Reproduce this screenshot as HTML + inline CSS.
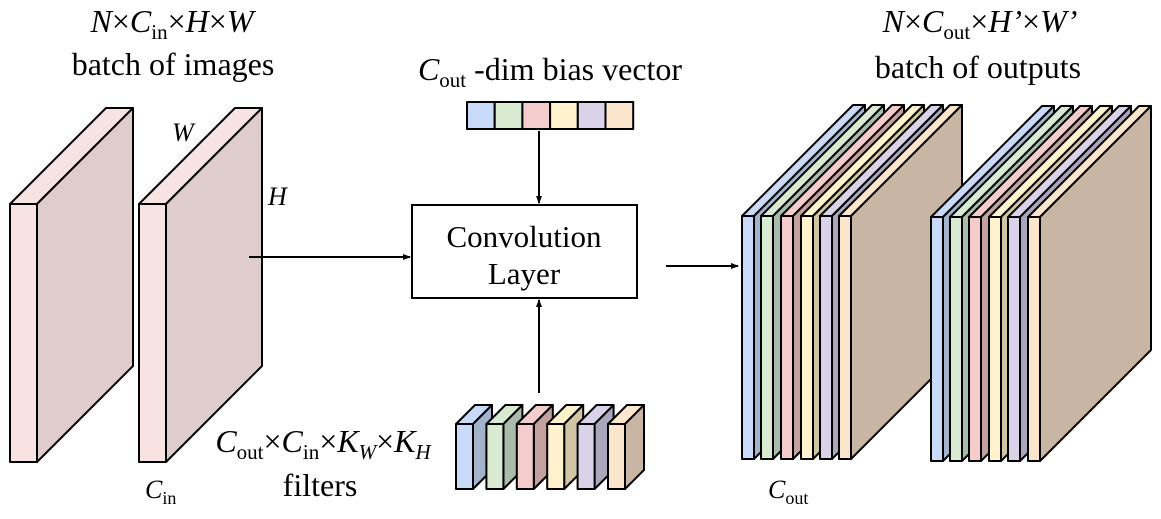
<!DOCTYPE html>
<html><head><meta charset="utf-8"><style>
html,body{margin:0;padding:0;background:#fff;}
svg{display:block;}
svg text{font-family:"Liberation Serif","Times New Roman",serif !important;fill:#000;}
</style></head><body>
<svg id="s" width="1161" height="519" viewBox="0 0 1161 519" xmlns="http://www.w3.org/2000/svg" font-family="Liberation Serif, serif">
<defs><marker id="ah" markerWidth="8" markerHeight="8" refX="7" refY="4" orient="auto" markerUnits="userSpaceOnUse"><path d="M0,1 L8,4 L0,7 Z" fill="#000"/></marker></defs>
<g id="g" stroke="#000" stroke-width="2" stroke-linejoin="round"></g>
<rect x="412" y="205" width="225" height="93" fill="#fff" stroke="#000" stroke-width="2"/>
<text x="524" y="247" font-size="31" text-anchor="middle">Convolution</text>
<text x="524" y="284" font-size="31" text-anchor="middle">Layer</text>
<g stroke="#000" stroke-width="2" fill="none">
<line x1="249" y1="257" x2="410" y2="257" marker-end="url(#ah)"/>
<line x1="539" y1="131" x2="539" y2="203" marker-end="url(#ah)"/>
<line x1="539" y1="393" x2="539" y2="300" marker-end="url(#ah)"/>
<line x1="666" y1="266" x2="738" y2="266" marker-end="url(#ah)"/>
</g>
<text x="172" y="32" font-size="32" text-anchor="middle"><tspan font-style="italic">N</tspan>×<tspan font-style="italic">C</tspan><tspan font-size="21" dy="7">in</tspan><tspan dy="-7">×</tspan><tspan font-style="italic">H</tspan>×<tspan font-style="italic">W</tspan></text>
<text x="173" y="75" font-size="32" text-anchor="middle">batch of images</text>
<text x="172" y="141" font-size="26" font-style="italic">W</text>
<text x="268" y="205" font-size="26" font-style="italic">H</text>
<text x="145" y="498" font-size="26"><tspan font-style="italic">C</tspan><tspan font-size="18" dy="6">in</tspan></text>
<text x="550" y="80" font-size="32" text-anchor="middle"><tspan font-style="italic">C</tspan><tspan font-size="21" dy="7">out</tspan><tspan dy="-7"> -dim bias vector</tspan></text>
<text x="323" y="452" font-size="32" text-anchor="middle"><tspan font-style="italic">C</tspan><tspan font-size="21" dy="7">out</tspan><tspan dy="-7">×</tspan><tspan font-style="italic">C</tspan><tspan font-size="21" dy="7">in</tspan><tspan dy="-7">×</tspan><tspan font-style="italic">K</tspan><tspan font-size="21" font-style="italic" dy="7">W</tspan><tspan dy="-7">×</tspan><tspan font-style="italic">K</tspan><tspan font-size="21" font-style="italic" dy="7">H</tspan></text>
<text x="320" y="496" font-size="32" text-anchor="middle">filters</text>
<text x="768" y="498" font-size="26"><tspan font-style="italic">C</tspan><tspan font-size="18" dy="6">out</tspan></text>
<text x="980" y="32" font-size="32" text-anchor="middle"><tspan font-style="italic">N</tspan>×<tspan font-style="italic">C</tspan><tspan font-size="21" dy="7">out</tspan><tspan dy="-7">×</tspan><tspan font-style="italic">H’</tspan>×<tspan font-style="italic">W’</tspan></text>
<text x="978" y="78" font-size="32" text-anchor="middle">batch of outputs</text>
</svg>
<script>
var g=document.getElementById('g'),NS='http://www.w3.org/2000/svg';
function poly(pts,fill){var p=document.createElementNS(NS,'polygon');p.setAttribute('points',pts.map(function(a){return a.join(',')}).join(' '));p.setAttribute('fill',fill);g.appendChild(p);}
function slab(x,y,w,h,d,front,side,top){
 poly([[x,y],[x+w,y],[x+w+d,y-d],[x+d,y-d]],top);
 poly([[x+w,y],[x+w+d,y-d],[x+w+d,y+h-d],[x+w,y+h]],side);
 poly([[x,y],[x+w,y],[x+w,y+h],[x,y+h]],front);
}
var C=[['#c9daf8','#a4b3cc'],['#d9ead3','#aabbaa'],['#f4cccc','#c4a0a0'],['#fff2cc','#d1c6a3'],['#d9d2e9','#aaa6bb'],['#fce5cd','#c9b5a3']];
slab(10,204,27,258,96,'#f8e3e3','#dfcccc','#f8e3e3');
slab(139,204,27,258,96,'#f8e3e3','#dfcccc','#f8e3e3');
var xs1=[742,761,781,801,820,839],xs2=[931,950,969,989,1008,1028];
for(var i=0;i<6;i++)slab(xs1[i],216,12,243,111,C[i][0],C[i][1],C[i][0]);
for(var i=0;i<6;i++)slab(xs2[i],217,12,244,111,C[i][0],C[i][1],C[i][0]);
for(var i=0;i<6;i++)slab(456+i*30.4,424,17,65,19,C[i][0],C[i][1],C[i][0]);
for(var i=0;i<6;i++){var r=document.createElementNS(NS,'rect');r.setAttribute('x',467+i*27.7);r.setAttribute('y',102);r.setAttribute('width',27.7);r.setAttribute('height',27);r.setAttribute('fill',C[i][0]);g.appendChild(r);}
</script>
</body></html>
